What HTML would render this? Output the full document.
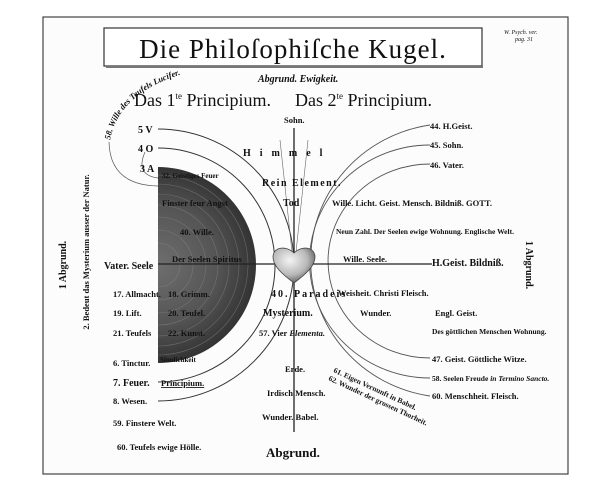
<!DOCTYPE html>
<html><head><meta charset="utf-8"><style>
html,body{margin:0;padding:0;background:#fff;}
svg{display:block;}
text{font-family:"Liberation Serif",serif;fill:#111;}
.s{font-size:8.5px;font-weight:bold;}
.m{font-size:10px;font-weight:bold;}
</style></head><body>
<svg width="606" height="496" viewBox="0 0 606 496" xmlns="http://www.w3.org/2000/svg">
<defs>
<radialGradient id="g" cx="158" cy="265" r="98" gradientUnits="userSpaceOnUse">
<stop offset="0" stop-color="#6e6e6e"/><stop offset="0.6" stop-color="#555"/><stop offset="1" stop-color="#333"/>
</radialGradient>
<radialGradient id="h" cx="0.4" cy="0.35" r="0.7">
<stop offset="0" stop-color="#f4f4f4"/><stop offset="0.6" stop-color="#b8b8b8"/><stop offset="1" stop-color="#555"/>
</radialGradient>
<path id="arcT" d="M110,140 Q120,90 190,72"/>
<path id="babel" d="M333,372 L432,418"/>
<path id="babel2" d="M328,380 L427,426"/>
</defs>
<rect x="43" y="17" width="525" height="457" fill="#fcfcfc" stroke="#444" stroke-width="1.2"/>
<rect x="104" y="28" width="378" height="38" fill="#fff" stroke="#333" stroke-width="1.2"/>
<line x1="106" y1="67" x2="483" y2="67" stroke="#777" stroke-width="2"/>
<text x="293" y="58" text-anchor="middle" style="font-size:27px;letter-spacing:1px">Die Philoſophiſche Kugel.</text>
<text x="504" y="34" style="font-size:6px;font-style:italic">W. Psych. ver.</text>
<text x="515" y="41" style="font-size:6px;font-style:italic">pag. 31</text>
<text x="258" y="82" class="m" style="font-style:italic">Abgrund. Ewigkeit.</text>
<text x="134" y="106" style="font-size:18px">Das 1<tspan style="font-size:9px" dy="-7">te</tspan><tspan dy="7"> Principium.</tspan></text>
<text x="295" y="106" style="font-size:18px">Das 2<tspan style="font-size:9px" dy="-7">te</tspan><tspan dy="7"> Principium.</tspan></text>
<text class="s" style="font-style:italic"><textPath href="#arcT">58. Wille des Teufels Lucifer.</textPath></text>
<path d="M109,142 Q110,185 158,186" fill="none" stroke="#555" stroke-width="0.7"/>
<path d="M145,152 Q135,175 158,178" fill="none" stroke="#555" stroke-width="0.7"/>
<g fill="none" stroke="#333" stroke-width="1">
<path d="M158,129 A136,136 0 0 1 158,401"/>
<path d="M158,148 A117,117 0 0 1 158,382"/>
</g>
<path d="M158,167 A98,98 0 0 1 158,363 Z" fill="url(#g)"/>
<g fill="none" stroke="#888" stroke-width="0.6" opacity="0.6">
<path d="M158,175 A90,90 0 0 1 158,355"/>
<path d="M158,184 A81,81 0 0 1 158,346"/>
<path d="M158,194 A71,71 0 0 1 158,336"/>
<path d="M158,205 A60,60 0 0 1 158,325"/>
<path d="M158,217 A48,48 0 0 1 158,313"/>
<path d="M158,230 A35,35 0 0 1 158,300"/>
<path d="M158,243 A22,22 0 0 1 158,287"/>
</g>
<g fill="none" stroke="#555" stroke-width="0.9">
<path d="M430,125 A140,137 0 0 0 430,396"/>
<path d="M430,145 A120,116 0 0 0 430,378"/>
<path d="M430,164 A102,97 0 0 0 430,358"/>
</g>
<line x1="158" y1="264" x2="432" y2="264" stroke="#222" stroke-width="1.3"/>
<line x1="294" y1="128" x2="294" y2="432" stroke="#222" stroke-width="1.3"/>
<path d="M280,140 L292,252 M308,140 L296,252" stroke="#666" stroke-width="0.6" fill="none"/>
<path d="M294,283 C282,274 273,266 273,257 C273,247 286,245 294,253 C302,245 315,247 315,257 C315,266 306,274 294,283 Z" fill="url(#h)" stroke="#444" stroke-width="0.8"/>
<g class="m">
<text x="138" y="133">5 V</text>
<text x="138" y="152">4 O</text>
<text x="140" y="172">3 A</text>
<text x="104" y="269">Vater. Seele</text>
<text x="113" y="297" class="s">17. Allmacht.</text>
<text x="113" y="316" class="s">19. Lift.</text>
<text x="113" y="336" class="s">21. Teufels</text>
<text x="113" y="366" class="s">6. Tinctur.</text>
<text x="113" y="386">7. Feuer.</text>
<text x="161" y="386" class="s" style="text-decoration:underline">Principium.</text>
<text x="113" y="404" class="s">8. Wesen.</text>
<text x="113" y="426" class="s">59. Finstere Welt.</text>
<text x="117" y="450" class="s">60. Teufels ewige Hölle.</text>
</g>
<g class="s">
<text x="162" y="178" style="font-size:7px">32. Geistiges Feuer</text>
<text x="162" y="206">Finster feur Angst</text>
<text x="180" y="235">40. Wille.</text>
<text x="172" y="262">Der Seelen Spiritus</text>
<text x="168" y="297">18. Grimm.</text>
<text x="168" y="316">20. Teufel.</text>
<text x="168" y="336">22. Kunst.</text>
<text x="160" y="362" style="font-size:7px">Sinnlichkeit</text>
</g>
<text transform="translate(66,265) rotate(-90)" text-anchor="middle" class="m">1 Abgrund.</text>
<text transform="translate(89,252) rotate(-90)" text-anchor="middle" class="s">2. Bedeut das Mysterium ausser der Natur.</text>
<g class="m">
<text x="284" y="123" class="s">Sohn.</text>
<text x="243" y="156" style="letter-spacing:9px">Himmel</text>
<text x="262" y="186" style="letter-spacing:1.5px">Rein Element.</text>
<text x="283" y="206">Tod</text>
<text x="271" y="297" style="letter-spacing:2px">40. Paradeis</text>
<text x="263" y="316">Mysterium.</text>
<text x="259" y="336" class="s">57. Vier <tspan style="font-style:italic">Elementa.</tspan></text>
<text x="285" y="372" class="s">Erde.</text>
<text x="267" y="396" class="s">Irdisch Mensch.</text>
<text x="262" y="420" class="s">Wunder.  Babel.</text>
<text x="266" y="457" style="font-size:13px">Abgrund.</text>
</g>
<text class="s" style="font-size:7.5px"><textPath href="#babel">61. Eigen Vernunft in Babel.</textPath></text>
<text class="s" style="font-size:7.5px"><textPath href="#babel2">62. Wunder der grossen Thorheit.</textPath></text>
<g class="s">
<text x="430" y="129">44. H.Geist.</text>
<text x="430" y="148">45. Sohn.</text>
<text x="430" y="168">46. Vater.</text>
<text x="332" y="206">Wille. Licht. Geist. Mensch. Bildniß. GOTT.</text>
<text x="336" y="234" style="font-size:7.5px">Neun Zahl. Der Seelen ewige Wohnung. Englische Welt.</text>
<text x="343" y="262">Wille.   Seele.</text>
<text x="432" y="266" class="m">H.Geist. Bildniß.</text>
<text x="338" y="296">Weisheit. Christi Fleisch.</text>
<text x="360" y="316">Wunder.</text>
<text x="435" y="316">Engl. Geist.</text>
<text x="432" y="334" style="font-size:7.5px">Des göttlichen Menschen Wohnung.</text>
<text x="432" y="362">47. Geist. Göttliche Witze.</text>
<text x="432" y="381" style="font-size:7.5px">58. Seelen Freude <tspan style="font-style:italic">in Termino Sancto.</tspan></text>
<text x="432" y="399">60. Menschheit. Fleisch.</text>
</g>
<text transform="translate(526,265) rotate(90)" text-anchor="middle" class="m">1 Abgrund.</text>
</svg>
</body></html>
